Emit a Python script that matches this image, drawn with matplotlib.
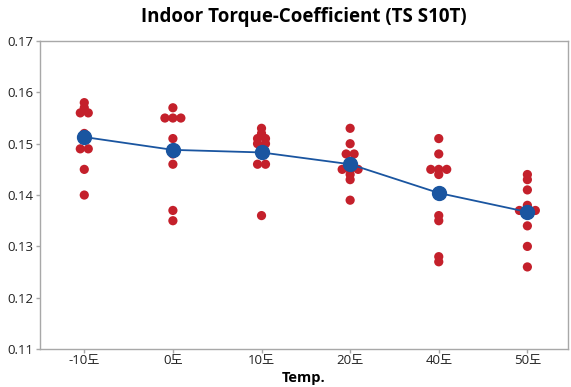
import numpy as np
import matplotlib
matplotlib.use("Agg")
import matplotlib.pyplot as plt

# Individual torque-coefficient readings per temperature group
temps = ["-10도", "0도", "10도", "20도", "40도", "50도"]
vals_m10 = [0.158, 0.157, 0.156, 0.156, 0.152, 0.151, 0.149, 0.149, 0.145, 0.140]
vals_0 = [0.157, 0.155, 0.155, 0.155, 0.151, 0.149, 0.148, 0.146, 0.137, 0.135]
vals_10 = [0.153, 0.152, 0.151, 0.151, 0.150, 0.150, 0.148, 0.146, 0.146, 0.136]
vals_20 = [0.153, 0.150, 0.148, 0.148, 0.145, 0.145, 0.145, 0.144, 0.143, 0.139]
vals_40 = [0.151, 0.148, 0.145, 0.145, 0.145, 0.144, 0.136, 0.135, 0.128, 0.127]
vals_50 = [0.144, 0.143, 0.141, 0.138, 0.137, 0.137, 0.137, 0.134, 0.130, 0.126]
groups = [vals_m10, vals_0, vals_10, vals_20, vals_40, vals_50]

yticks = [0.11, 0.12, 0.13, 0.14, 0.15, 0.16, 0.17]

RED = "#C4202B"
BLUE = "#1A55A0"
GRAY = "#A8A8A8"

plt.rcParams["font.family"] = ["Open Sans", "Noto Sans CJK KR", "DejaVu Sans"]

fig = plt.figure(figsize=(5.71, 3.87), dpi=100)
ax = fig.add_axes([0.070, 0.098, 0.925, 0.796])


def spread(values, step=0.09):
    """Side-by-side offsets for tied values (individual value plot style)."""
    vals = np.round(np.asarray(values), 4)
    offs = np.zeros(len(vals))
    for v in np.unique(vals):
        idx = np.where(vals == v)[0]
        n = len(idx)
        offs[idx] = (np.arange(n) - (n - 1) / 2) * step
    return offs


means = []
for i, g in enumerate(groups):
    xs = i + spread(g)
    ax.scatter(xs, g, s=44, color=RED, edgecolors="none", zorder=3)
    means.append(np.mean(g))

ax.plot(range(len(groups)), means, color=BLUE, lw=1.3, zorder=4,
        marker="o", markersize=10, markerfacecolor=BLUE, markeredgecolor=BLUE)

ax.set_xlim(-0.5, 5.46)
ax.set_ylim(0.11, 0.17)
ax.set_yticks(yticks)
ax.set_yticklabels([f"{t:.2f}" for t in yticks], fontsize=9.5)
ax.set_xticks(range(len(temps)))
ax.set_xticklabels(temps, fontsize=9.5)

for s in ax.spines.values():
    s.set_color(GRAY)
    s.set_linewidth(1.0)
ax.tick_params(axis="both", colors=GRAY, length=3, width=1.0, labelcolor="#222222")
ax.tick_params(axis="y", pad=2)
ax.tick_params(axis="x", pad=0.5)

ax.set_xlabel("Temp.", fontsize=10.5, fontweight="bold", labelpad=3)
ax.set_title("Indoor Torque-Coefficient (TS S10T)", fontsize=13.5, fontweight="bold",
             pad=14)

fig.savefig("out.png", dpi=100)
